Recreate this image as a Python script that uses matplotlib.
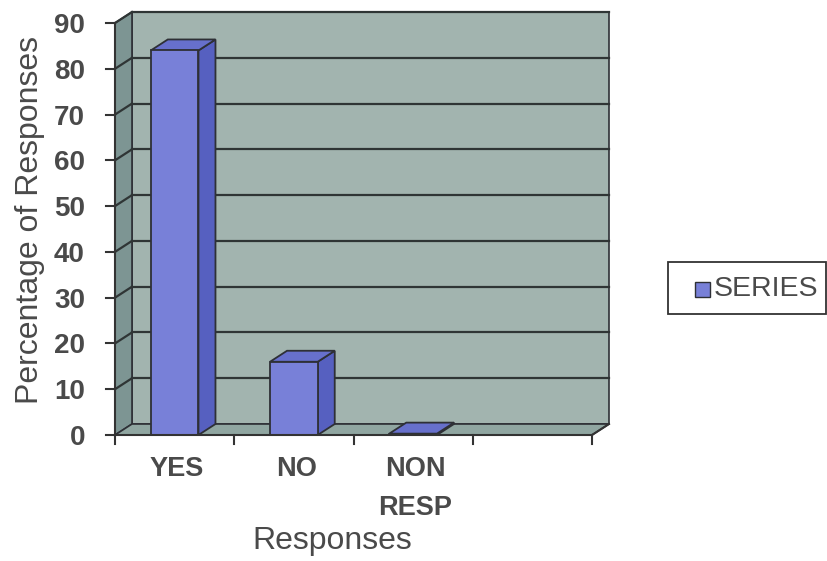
import matplotlib
matplotlib.use("Agg")
import matplotlib.pyplot as plt
from matplotlib.patches import Polygon, Rectangle

plt.rcParams['font.family'] = ['Liberation Sans', 'DejaVu Sans']

categories = ["YES", "NO", "NON\nRESP"]
values = [84, 16, 0.3]
yticks = [0, 10, 20, 30, 40, 50, 60, 70, 80, 90]
series_name = "SERIES"
xlabel = "Responses"
ylabel = "Percentage of Responses"

W, H = 828, 561
fig = plt.figure(figsize=(W / 100, H / 100), dpi=100)
fig.patch.set_facecolor("white")

x0px, x1px, y0px, y1px = 115, 592, 435, 23
ax = fig.add_axes([x0px / W, 1 - y0px / H, (x1px - x0px) / W, (y0px - y1px) / H])
nslots = 4
ymax = 90
ax.set_xlim(0, nslots)
ax.set_ylim(0, ymax)
ax.axis("off")

ppx = (x1px - x0px) / nslots
ppy = (y0px - y1px) / ymax
dx = 17 / ppx
dy = 11 / ppy

wall_c = "#a2b4af"
side_c = "#7d9593"
floor_c = "#90a6a1"
grid_c = "#2f3535"
edge_c = "#2e3036"
txt_c = "#4a4a4a"

def poly(pts, fc, ec=edge_c, lw=1.2, z=1):
    ax.add_patch(Polygon(pts, closed=True, facecolor=fc, edgecolor=ec, lw=lw,
                         zorder=z, clip_on=False))

# back wall
poly([(dx, dy), (nslots + dx, dy), (nslots + dx, ymax + dy), (dx, ymax + dy)], wall_c, z=1)
# left side wall
poly([(0, 0), (dx, dy), (dx, ymax + dy), (0, ymax)], side_c, z=1)
# floor
poly([(0, 0), (nslots, 0), (nslots + dx, dy), (dx, dy)], floor_c, z=2)

# gridlines
for v in yticks[1:]:
    ax.plot([dx, nslots + dx], [v + dy, v + dy], color=grid_c, lw=1.6, zorder=2, clip_on=False)
    ax.plot([0, dx], [v, v + dy], color=grid_c, lw=1.6, zorder=2, clip_on=False)

# bars
bw = 0.40
front_c = "#7880d8"
sidebar_c = "#5660c0"
top_c = "#6770cc"
xs = [i + 0.5 for i in range(len(categories))]
bars = ax.bar(xs, values, width=bw, color=front_c, edgecolor=edge_c, lw=1.3, zorder=5,
              clip_on=False)
for x, h in zip(xs, values):
    l, r = x - bw / 2, x + bw / 2
    poly([(r, 0), (r, h), (r + dx, h + dy), (r + dx, dy)], sidebar_c, lw=1.3, z=4)
    poly([(l, h), (r, h), (r + dx, h + dy), (l + dx, h + dy)], top_c, lw=1.3, z=4)

# axes lines and ticks
axc = "#333333"
ax.plot([0, 0], [0, ymax], color=axc, lw=1.5, zorder=6, clip_on=False)
ax.plot([0, nslots], [0, 0], color=axc, lw=1.5, zorder=6, clip_on=False)
ax.plot([nslots, nslots + dx], [0, dy], color=axc, lw=1.5, zorder=6, clip_on=False)
tl = 9 / ppx
for v in yticks:
    ax.plot([-tl, 0], [v, v], color=axc, lw=1.5, zorder=6, clip_on=False)
    ax.text(-30 / ppx, v, str(v), ha="right", va="center_baseline", fontsize=20,
            fontweight="bold", color=txt_c)
tly = 9 / ppy
for i in range(nslots + 1):
    ax.plot([i, i], [0, -tly], color=axc, lw=1.5, zorder=6, clip_on=False)
for x, c in zip(xs, categories):
    ax.text(x + 0.02, -21 / ppy, c, ha="center", va="top", fontsize=19.5, fontweight="bold",
            color=txt_c, linespacing=1.65)

fig.text(332 / W, 1 - 541 / H, xlabel, ha="center", va="center", fontsize=23, color=txt_c)
fig.text(30 / W, 1 - 220 / H, ylabel, ha="center", va="center", rotation=90,
         fontsize=23, color=txt_c)

# legend
lx0, ly0, lx1, ly1 = 668, 262, 826, 314
fig.patches.append(Rectangle((lx0 / W, 1 - ly1 / H), (lx1 - lx0) / W, (ly1 - ly0) / H,
                             transform=fig.transFigure, facecolor="white",
                             edgecolor="#333333", lw=1.3))
fig.patches.append(Rectangle((695 / W, 1 - 297 / H), 15 / W, 15 / H,
                             transform=fig.transFigure, facecolor=front_c,
                             edgecolor=edge_c, lw=1.0))
fig.text(714 / W, 1 - 289 / H, series_name, ha="left", va="center", fontsize=20.5,
         color=txt_c)

fig.savefig("out.png", dpi=100, facecolor="white")
